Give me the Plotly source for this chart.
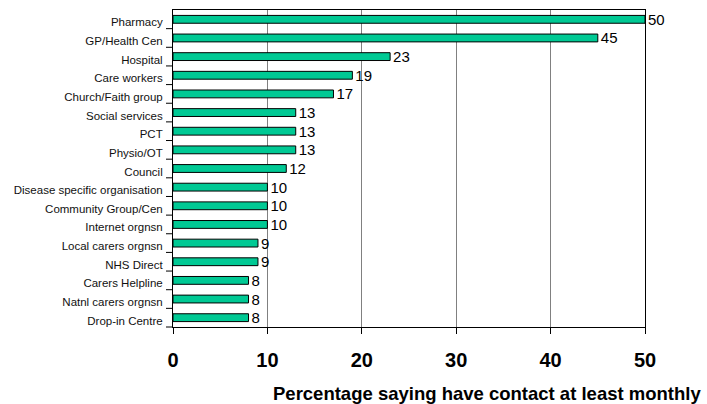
import plotly.graph_objects as go

# Sources of support and share of carers in contact with each at least monthly
categories = [
    "Pharmacy", "GP/Health Cen", "Hospital", "Care workers", "Church/Faith group",
    "Social services", "PCT", "Physio/OT", "Council", "Disease specific organisation",
    "Community Group/Cen", "Internet orgnsn", "Local carers orgnsn", "NHS Direct",
    "Carers Helpline", "Natnl carers orgnsn", "Drop-in Centre",
]
values = [50, 45, 23, 19, 17, 13, 13, 13, 12, 10, 10, 10, 9, 9, 8, 8, 8]
x_ticks = [0, 10, 20, 30, 40, 50]

W, H = 707, 404
margin = dict(l=173, r=62, t=10, b=77)
plot_w = W - margin["l"] - margin["r"]
plot_h = H - margin["t"] - margin["b"]

fig = go.Figure(
    go.Bar(
        x=values,
        y=categories,
        orientation="h",
        width=0.42,
        marker=dict(color="#00C994", line=dict(color="#000000", width=1)),
        text=[str(v) for v in values],
        textposition="outside",
        textfont=dict(family="Liberation Sans, Arial", size=15, color="#000000"),
        cliponaxis=False,
        hoverinfo="skip",
    )
)

# Short tick marks on the category axis, one at the lower edge of each category slot
n = len(categories)
tick_px = 7
for i in range(n):
    yb = 1 - (i + 1) / n
    fig.add_shape(
        type="line",
        xref="paper", yref="paper",
        x0=-tick_px / plot_w, x1=0,
        y0=yb, y1=yb,
        line=dict(color="#000000", width=1),
        layer="above",
    )

fig.update_layout(
    width=W,
    height=H,
    margin=margin,
    paper_bgcolor="white",
    plot_bgcolor="white",
    showlegend=False,
    uniformtext=dict(minsize=15, mode="show"),
    font=dict(family="Liberation Sans, Arial", color="#000000"),
    xaxis=dict(
        range=[0, 50],
        tickvals=x_ticks,
        ticktext=[str(t) for t in x_ticks],
        tickfont=dict(size=20, family="Liberation Sans, Arial", color="#000000", weight="bold"),
        ticks="outside",
        ticklen=6,
        tickcolor="#000000",
        ticklabelstandoff=9,
        showgrid=True,
        gridcolor="#808080",
        gridwidth=1,
        showline=True,
        linecolor="#000000",
        linewidth=1,
        mirror=True,
        zeroline=False,
        fixedrange=True,
    ),
    yaxis=dict(
        categoryorder="array",
        categoryarray=categories,
        range=[n - 0.5, -0.5],
        ticks="",
        ticklabelstandoff=7,
        ticklabelshift=-3,
        tickfont=dict(size=11.5, family="Liberation Sans, Arial", color="#111111"),
        showgrid=False,
        showline=True,
        linecolor="#000000",
        linewidth=1,
        mirror=True,
        fixedrange=True,
    ),
    annotations=[
        dict(
            text="<b>Percentage saying have contact at least monthly</b>",
            xref="paper", yref="paper",
            x=1 + (margin["r"] - 4) / plot_w,
            y=-(393 - (H - margin["b"])) / plot_h,
            xanchor="right", yanchor="middle",
            showarrow=False,
            font=dict(size=18.5, family="Liberation Sans, Arial", color="#000000"),
        )
    ],
)

fig.write_html("out.html")
